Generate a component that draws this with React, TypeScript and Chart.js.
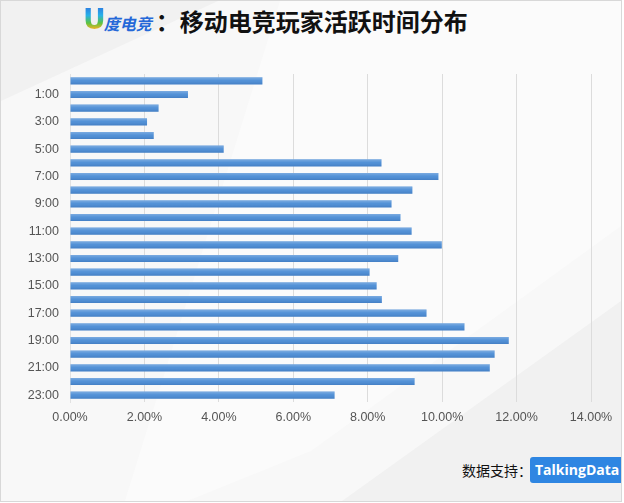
import React, { useEffect, useRef } from "react";
import { Chart, registerables } from "chart.js";

Chart.register(...registerables);

const hours: string[] = [
  "0:00", "1:00", "2:00", "3:00", "4:00", "5:00", "6:00", "7:00", "8:00", "9:00", "10:00", "11:00",
  "12:00", "13:00", "14:00", "15:00", "16:00", "17:00", "18:00", "19:00", "20:00", "21:00", "22:00", "23:00",
];
const shares: number[] = [
  5.17, 3.17, 2.38, 2.07, 2.25, 4.13, 8.37, 9.90, 9.20, 8.64, 8.88, 9.18,
  9.99, 8.82, 8.05, 8.24, 8.38, 9.58, 10.60, 11.79, 11.41, 11.28, 9.26, 7.11,
];
const xMax = 14;
const xStep = 2;

const barShine = {
  id: "barShine",
  afterDatasetsDraw(chart: any) {
    const ctx = chart.ctx;
    const meta = chart.getDatasetMeta(0);
    ctx.save();
    meta.data.forEach((bar: any) => {
      const { x, y, base, height } = bar.getProps(["x", "y", "base", "height"], true);
      const top = y - height / 2;
      const g = ctx.createLinearGradient(0, top, 0, top + height);
      g.addColorStop(0, "rgba(255,255,255,0.28)");
      g.addColorStop(0.45, "rgba(255,255,255,0.05)");
      g.addColorStop(1, "rgba(0,0,40,0.10)");
      ctx.fillStyle = g;
      ctx.fillRect(base, top, x - base, height);
    });
    ctx.restore();
  },
};

export default function App() {
  const ref = useRef<HTMLCanvasElement | null>(null);

  useEffect(() => {
    document.body.style.margin = "0";
    if (!ref.current) return;
    const chart = new Chart(ref.current, {
      type: "bar",
      data: {
        labels: hours,
        datasets: [
          {
            data: shares,
            backgroundColor: "#4a8cd5",
            borderWidth: 0,
            barPercentage: 0.52,
            categoryPercentage: 1,
          },
        ],
      },
      options: {
        indexAxis: "y",
        animation: false,
        responsive: false,
        maintainAspectRatio: false,
        layout: { padding: { top: 18, right: 30, left: 0, bottom: 0 } },
        plugins: {
          legend: { display: false },
          tooltip: { enabled: false },
        },
        scales: {
          x: {
            min: 0,
            max: xMax,
            ticks: {
              stepSize: xStep,
              color: "#555",
              padding: 8,
              font: { family: "Liberation Sans", size: 12.5 },
              callback: (v: any) => Number(v).toFixed(2) + "%",
            },
            grid: { color: "#dcdcdc", drawTicks: false },
            border: { display: false },
            afterFit: (s: any) => {
              s.height = 33;
            },
          },
          y: {
            ticks: {
              autoSkip: false,
              color: "#555",
              padding: 3,
              font: { family: "Liberation Sans", size: 12.5 },
              callback: (_v: any, i: number) => (i % 2 === 1 ? hours[i] : ""),
            },
            grid: { display: false },
            border: { display: true, color: "#e2e2e2" },
            afterFit: (s: any) => {
              s.width = 69;
            },
          },
        },
      },
      plugins: [barShine],
    });
    return () => chart.destroy();
  }, []);

  return (
    <div
      style={{
        position: "absolute",
        left: 0,
        top: 0,
        width: 620,
        height: 500,
        border: "1px solid #d8d8d8",
        background: "#f1f1f1",
        overflow: "hidden",
        fontFamily: "'Noto Sans CJK SC', sans-serif",
      }}
    >
      <div
        style={{
          position: "absolute",
          inset: 0,
          background: "#f8f8f8",
          clipPath: "polygon(0% 20%, 35% 0%, 100% 0%, 100% 60%, 55% 100%, 0% 100%)",
        }}
      />
      <div
        style={{
          position: "absolute",
          inset: 0,
          background: "#fbfbfb",
          clipPath: "polygon(45% 0%, 100% 0%, 100% 45%, 50% 90%, 30% 100%, 20% 100%)",
        }}
      />
      <div
        style={{
          position: "absolute",
          left: 82,
          top: -1,
          display: "flex",
          alignItems: "center",
          height: 40,
          whiteSpace: "nowrap",
        }}
      >
        <span
          style={{
            fontFamily: "'DejaVu Sans', sans-serif",
            fontWeight: 900,
            fontSize: 28,
            lineHeight: "30px",
            background: "linear-gradient(180deg, #2f6fe0 0%, #27b1e8 35%, #5cc341 60%, #f0b323 80%, #d9354a 100%)",
            WebkitBackgroundClip: "text",
            backgroundClip: "text",
            color: "transparent",
          }}
        >
          U
        </span>
        <span
          style={{
            fontWeight: 700,
            fontStyle: "italic",
            fontSize: 16,
            color: "#2468d8",
            marginLeft: -2,
            marginTop: 6,
          }}
        >
          度电竞
        </span>
        <span style={{ fontWeight: 700, fontSize: 24, color: "#111", marginLeft: 4 }}>：移动电竞玩家活跃时间分布</span>
      </div>
      <canvas
        ref={ref}
        width={620}
        height={379}
        style={{ position: "absolute", left: 0, top: 55, width: 620, height: 379 }}
      />
      <div
        style={{
          position: "absolute",
          left: 461,
          top: 456,
          display: "flex",
          alignItems: "center",
          height: 26,
          whiteSpace: "nowrap",
        }}
      >
        <span style={{ fontSize: 14, color: "#111" }}>数据支持：</span>
        <span
          style={{
            background: "#2f86e2",
            color: "#fff",
            fontFamily: "'Open Sans', sans-serif",
            fontWeight: 700,
            fontSize: 14,
            borderRadius: 3,
            padding: "2px 5px",
            height: 22,
            lineHeight: "22px",
            marginLeft: -2,
          }}
        >
          TalkingData
        </span>
      </div>
    </div>
  );
}
